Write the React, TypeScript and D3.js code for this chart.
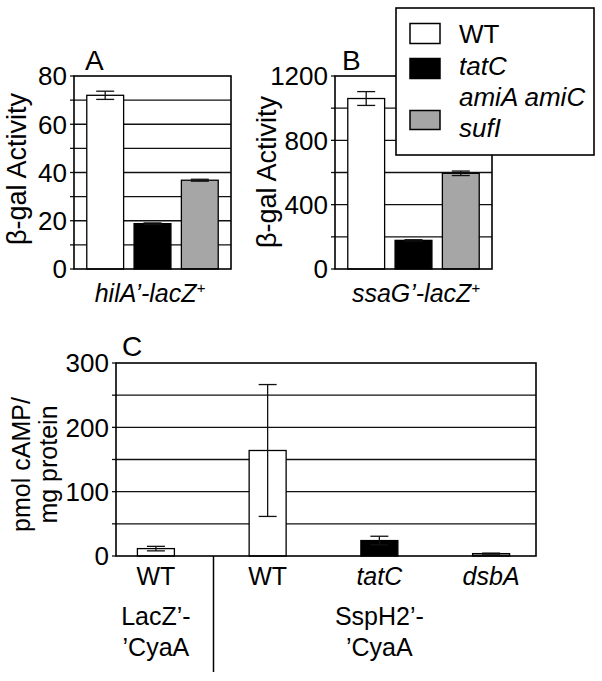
import React from 'react';
import * as d3 from 'd3';

// panel A / B genotypes (legend order)
const genotypes = ['WT', 'tatC', 'amiA amiC sufI'];
const genotypeFills = ['#ffffff', '#000000', '#a6a6a6'];

// A: hilA'-lacZ+ beta-gal activity
const hilAValues = [72, 18.8, 36.8];
const hilAErrors = [1.7, 0.3, 0.4];
const hilATicks = [0, 20, 40, 60, 80];
const hilAGrid = [10, 20, 30, 40, 50, 60, 70];

// B: ssaG'-lacZ+ beta-gal activity
const ssaGValues = [1060, 178, 595];
const ssaGErrors = [43, 4, 14];
const ssaGTicks = [0, 400, 800, 1200];
const ssaGGrid = [200, 400, 600, 800, 1000];

// C: cAMP from CyaA fusions
const cyaKeys = ['LacZ-WT', 'SspH2-WT', 'SspH2-tatC', 'SspH2-dsbA'];
const cyaLabels = ['WT', 'WT', 'tatC', 'dsbA'];
const cyaItalic = [false, false, true, true];
const cyaValues = [11.5, 164, 24, 3.7];
const cyaErrors = [3.5, 102.5, 6.7, 0.8];
const cyaFills = ['#ffffff', '#ffffff', '#000000', '#9a9a9a'];
const cyaTicks = [0, 100, 200, 300];
const cyaGrid = [50, 100, 150, 200, 250];
// fusion groups, each labelled under one of its bars
const fusionLines = [['LacZ’-', '’CyaA'], ['SspH2’-', '’CyaA']];
const fusionUnder = ['LacZ-WT', 'SspH2-tatC'];

const FONT = "'Liberation Sans', Arial, Helvetica, sans-serif";

type PanelProps = {
  left: number; right: number; top: number; bottom: number;
  max: number; ticks: number[]; grid: number[];
  keys: string[]; values: number[]; errors: number[]; fills: string[];
  band: [number, number]; padIn: number; padOut: number;
  tickSize: number;
};

function BarPanel(p: PanelProps) {
  const y = d3.scaleLinear().domain([0, p.max]).range([p.bottom, p.top]);
  const x = d3.scaleBand().domain(p.keys).range(p.band).paddingInner(p.padIn).paddingOuter(p.padOut);
  const bw = x.bandwidth();
  const cap = 9;
  const allTicks = [0, ...p.grid, p.max];
  return (
    <g>
      {p.grid.map(g => (
        <line key={'g' + g} x1={p.left} x2={p.right} y1={y(g)} y2={y(g)} stroke="#111" strokeWidth={1.3} />
      ))}
      {allTicks.map(t => (
        <line key={'t' + t} x1={p.left - 4} x2={p.left} y1={y(t)} y2={y(t)} stroke="#111" strokeWidth={1.3} />
      ))}
      {p.ticks.map(t => (
        <text key={'l' + t} x={p.left - 7} y={y(t)} dy="0.36em" textAnchor="end"
          fontSize={p.tickSize} fontFamily={FONT}>{t}</text>
      ))}
      {p.keys.map((k, i) => (
        <rect key={'b' + k} x={x(k)} y={y(p.values[i])} width={bw} height={y(0) - y(p.values[i])}
          fill={p.fills[i]} stroke="#000" strokeWidth={1.3} />
      ))}
      {p.keys.map((k, i) => {
        const cx = (x(k) as number) + bw / 2;
        const hi = y(p.values[i] + p.errors[i]);
        const lo = y(p.values[i] - p.errors[i]);
        return (
          <g key={'e' + k} stroke="#111" strokeWidth={1.3}>
            <line x1={cx} x2={cx} y1={hi} y2={lo} />
            <line x1={cx - cap} x2={cx + cap} y1={hi} y2={hi} />
            <line x1={cx - cap} x2={cx + cap} y1={lo} y2={lo} />
          </g>
        );
      })}
      <rect x={p.left} y={p.top} width={p.right - p.left} height={p.bottom - p.top}
        fill="none" stroke="#000" strokeWidth={1.6} />
    </g>
  );
}

function LacZLabel({ x, y, gene }: { x: number; y: number; gene: string }) {
  return (
    <text x={x} y={y} textAnchor="middle" fontSize={25} fontFamily={FONT} fontStyle="italic">
      {gene}’-lacZ<tspan fontSize={15} dy={-9}>+</tspan>
    </text>
  );
}

export default function App() {
  const cyaBand: [number, number] = [113.5, 533.5];
  const xc = d3.scaleBand().domain(cyaKeys).range(cyaBand).paddingInner(0.669).paddingOuter(0.214);
  const mid = (k: string) => (xc(k) as number) + xc.bandwidth() / 2;
  return (
    <svg width={602} height={681} style={{ position: 'absolute', left: 0, top: 0, background: '#fff' }}>
      <rect width={602} height={681} fill="#fff" />

      {/* Panel A */}
      <text x={85} y={70} fontSize={28} fontFamily={FONT}>A</text>
      <text transform="translate(26,169) rotate(-90)" textAnchor="middle" fontSize={27} fontFamily={FONT}>β-gal Activity</text>
      <BarPanel left={74} right={231} top={76} bottom={269} max={80} ticks={hilATicks} grid={hilAGrid}
        keys={genotypes} values={hilAValues} errors={hilAErrors} fills={genotypeFills}
        band={[74, 231]} padIn={0.221} padOut={0.27} tickSize={26} />
      <LacZLabel x={150} y={302} gene="hilA" />

      {/* Panel B */}
      <text x={342} y={70} fontSize={28} fontFamily={FONT}>B</text>
      <text transform="translate(276,172) rotate(-90)" textAnchor="middle" fontSize={27} fontFamily={FONT}>β-gal Activity</text>
      <BarPanel left={335} right={492} top={76} bottom={269} max={1200} ticks={ssaGTicks} grid={ssaGGrid}
        keys={genotypes} values={ssaGValues} errors={ssaGErrors} fills={genotypeFills}
        band={[335, 492]} padIn={0.221} padOut={0.27} tickSize={26} />
      <LacZLabel x={416} y={302} gene="ssaG" />

      {/* Legend */}
      <g fontFamily={FONT} fontSize={26}>
        <rect x={396} y={8} width={198} height={147} fill="#fff" stroke="#000" strokeWidth={1.6} />
        <rect x={410} y={23.5} width={30} height={20} fill={genotypeFills[0]} stroke="#000" strokeWidth={1.5} />
        <text x={459} y={43}>{genotypes[0]}</text>
        <rect x={410} y={58.5} width={30} height={20} fill={genotypeFills[1]} stroke="#000" strokeWidth={1.5} />
        <text x={459} y={75} fontStyle="italic">{genotypes[1]}</text>
        <rect x={410} y={110.5} width={30} height={19} fill={genotypeFills[2]} stroke="#000" strokeWidth={1.5} />
        <text x={459} y={106} fontStyle="italic">amiA amiC</text>
        <text x={459} y={137} fontStyle="italic">sufI</text>
      </g>

      {/* Panel C */}
      <text x={122} y={356} fontSize={28} fontFamily={FONT}>C</text>
      <g transform="translate(0,464.5) rotate(-90)" fontSize={25} fontFamily={FONT} textAnchor="middle">
        <text x={0} y={30}>pmol cAMP/</text>
        <text x={0} y={57}>mg protein</text>
      </g>
      <BarPanel left={116} right={536} top={363} bottom={556} max={300} ticks={cyaTicks} grid={cyaGrid}
        keys={cyaKeys} values={cyaValues} errors={cyaErrors} fills={cyaFills}
        band={cyaBand} padIn={0.669} padOut={0.214} tickSize={26} />
      {cyaKeys.map((k, i) => (
        <text key={k} x={mid(k)} y={585} textAnchor="middle"
          fontSize={25} fontFamily={FONT} fontStyle={cyaItalic[i] ? 'italic' : 'normal'}>{cyaLabels[i]}</text>
      ))}
      <line x1={213.5} x2={213.5} y1={556} y2={672} stroke="#000" strokeWidth={1.5} />
      <g fontSize={25} fontFamily={FONT} textAnchor="middle">
        {fusionLines.map((lines, g) => lines.map((t, j) => (
          <text key={g + '-' + j} x={mid(fusionUnder[g])} y={625 + j * 31}>{t}</text>
        )))}
      </g>
    </svg>
  );
}
